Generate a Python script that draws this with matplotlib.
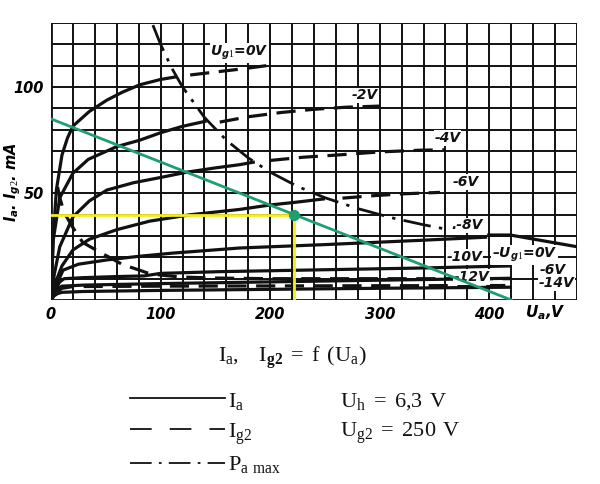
import matplotlib
matplotlib.use("Agg")
import matplotlib.pyplot as plt

plt.rcParams['mathtext.fontset'] = 'custom'
plt.rcParams['mathtext.rm'] = 'Liberation Serif'
plt.rcParams['mathtext.it'] = 'DejaVu Sans:italic:bold'
plt.rcParams['mathtext.bf'] = 'Liberation Serif:bold'

# ---------------- data ----------------
# anode current, solid part (up to Pa max), Ua in V, Ia in mA
ua_g0 = [0, 2, 5, 10, 15, 20, 35, 51, 65, 81, 100, 115]
ia_g0 = [0, 30, 52, 68, 76, 81.6, 88.5, 93.8, 97.5, 101, 103.5, 104.8]
ua_g2 = [0, 2, 8, 20, 34, 60, 81, 100, 120, 142]
ia_g2 = [0, 28, 48, 59.5, 66, 72, 75, 78.5, 81.5, 84]
ua_g4 = [0, 3, 8, 20, 35, 51, 75, 100, 124, 150, 172, 186]
ia_g4 = [0, 12, 25, 39, 46.5, 51.6, 55, 57.5, 60, 62, 63.5, 64.8]
ua_g6 = [0, 4, 10, 20, 35, 60, 90, 127, 172, 200, 222, 250]
ia_g6 = [0, 8, 16, 23.5, 28.5, 33, 37, 40, 42.5, 44.6, 45.8, 47.5]
ua_g8 = [0, 4, 11, 25, 51, 80, 111, 172, 250, 337, 398]
ia_g8 = [0, 6, 14, 16.8, 18.8, 20.5, 22, 24.4, 26, 28, 29.5]
ua_g8b = [398, 419, 480]
ia_g8b = [30.5, 30.5, 25]
ua_g10 = [0, 4, 8, 12, 30, 60, 85, 100, 154, 250, 337, 420]
ia_g10 = [0, 5, 8.5, 10, 10.5, 11, 11.3, 12.5, 13.3, 14.2, 15, 16]
ua_g12 = [0, 3, 6, 10, 30, 100, 200, 300, 420]
ia_g12 = [0, 3.5, 5.5, 6.5, 7, 7.7, 8.5, 9.3, 10.2]
ua_g14 = [0, 3, 6, 10, 30, 100, 200, 300, 420]
ia_g14 = [0, 2, 3, 3.6, 4, 4.5, 5, 5.5, 6]

# anode current beyond Pa max (dashed)
ua_g0d = [127, 150, 175, 197]
ia_g0d = [105.6, 107, 108.5, 110]
ua_g2d = [154, 180, 210, 240, 270, 300]
ia_g2d = [83.5, 86, 88, 89.5, 90.5, 91]
ua_g4d = [200, 230, 260, 300, 337, 360]
ia_g4d = [65.5, 67, 68, 69.5, 70.3, 70.5]
ua_g6d = [266, 290, 320, 355]
ia_g6d = [47.8, 48.8, 49.8, 50.5]

# screen grid current (dashed)
ua_s0 = [6, 8, 12, 20, 29, 46, 57, 66, 75, 88, 100, 118, 150, 200, 300, 420]
is_s0 = [53, 48, 41, 34, 27, 22, 19, 16.4, 15, 12.7, 11.7, 10.8, 10.3, 10, 10, 10]
ua_s6 = [5, 10, 20, 100, 200, 300, 420]
is_s6 = [3.5, 5.5, 6.3, 6.5, 6.6, 6.7, 6.8]

# Pa max = 12 W hyperbola
ua_pmax = [93, 100, 110, 120, 140, 160, 180, 200, 225, 250, 280, 310, 340, 358]
ia_pmax = [129, 120, 109, 100, 85.7, 75, 66.7, 60, 53.3, 48, 42.9, 38.7, 35.3, 33.5]

# load line and operating point
ua_load = [0, 420]
ia_load = [85, 0]
ua_op = 222
ia_op = 40

x_ticks = [0, 100, 200, 300, 400]
y_ticks = [50, 100]

# ---------------- drawing ----------------
fig = plt.figure(figsize=(6.0, 4.84), dpi=100)
ax = fig.add_axes([51/600, 1-300/484, (577-51)/600, (300-23)/484])
ax.set_xlim(0, 480)
ax.set_ylim(0, 130)

K = '#111111'
for x in range(0, 481, 20):
    ax.axvline(x, color=K, lw=1.4 if x else 2.0, zorder=1)
for y in range(0, 131, 10):
    ax.axhline(y, color=K, lw=1.4 if y else 2.0, zorder=1)
for s in ax.spines.values():
    s.set_visible(False)
ax.tick_params(length=0)
ax.set_xticks(x_ticks)
ax.set_xticklabels([str(v) for v in x_ticks], fontstyle='italic',
                   fontweight='bold', fontsize=10.5)
ax.set_yticks(y_ticks)
ax.set_yticklabels([str(v) for v in y_ticks], fontstyle='italic',
                   fontweight='bold', fontsize=10.5)
ax.tick_params(axis='x', pad=5)
ax.tick_params(axis='y', pad=5)

lw = 2.3
solid = [(ua_g0, ia_g0), (ua_g2, ia_g2), (ua_g4, ia_g4), (ua_g6, ia_g6),
         (ua_g8, ia_g8), (ua_g8b, ia_g8b), (ua_g10, ia_g10), (ua_g12, ia_g12),
         (ua_g14, ia_g14)]
for u, i in solid:
    ax.plot(u, i, color=K, lw=lw, solid_capstyle='butt', zorder=3)
dashed = [(ua_g0d, ia_g0d), (ua_g2d, ia_g2d), (ua_g4d, ia_g4d), (ua_g6d, ia_g6d),
          (ua_s0, is_s0), (ua_s6, is_s6)]
for u, i in dashed:
    ax.plot(u, i, color=K, lw=lw, dashes=(6, 3), zorder=3)
ax.plot(ua_pmax, ia_pmax, color=K, lw=2.0, dashes=(10, 3, 1.2, 3), zorder=3)

# curve labels
lab = dict(fontstyle='italic', fontweight='bold', fontsize=10, color=K,
           ha='center', va='center', zorder=4,
           bbox=dict(facecolor='white', edgecolor='none', pad=0.5))
ax.text(172, 116, r"$U_{g1}$=0V", **lab)
ax.text(286, 96, "-2V", **lab)
ax.text(362, 76, "-4V", **lab)
ax.text(378, 55.4, "-6V", **lab)
ax.text(380, 35, ".-8V", **lab)
ax.text(377, 20.2, "-10V", **lab)
ax.text(384, 10.8, "-12V", **lab)
ax.text(432, 21, r"–$U_{g1}$=0V", **lab)
ax.text(458, 14, "-6V", **lab)
ax.text(461, 8, "-14V", **lab)

# load line overlay
ax.plot([0, ua_op], [ia_op, ia_op], color='#f2ee1e', lw=2.0, zorder=5)
ax.plot([ua_op, ua_op], [0, ia_op], color='#f2ee1e', lw=2.0, zorder=5)
ax.plot(ua_load, ia_load, color='#1f9e72', lw=2.0, zorder=6)
ax.plot([ua_op], [ia_op], 'o', color='#1f9e72', ms=7, zorder=7)

# axis titles
fig.text(545/600, 1-313/484, r"$U_a$,V", fontstyle='italic', fontweight='bold',
         fontsize=11, ha='center', va='center')
fig.text(13/600, 1-182/484, r"$I_a$. $I_{g2}$. mA", fontstyle='italic',
         fontweight='bold', fontsize=10.5, rotation=90, ha='center', va='center')

# caption & legend
ser = dict(fontsize=16, color=K, va='baseline', family='Liberation Serif')
fig.text(292/600, 1-362/484, r"$\mathrm{I_a,\ \ I_{\mathbf{g2}}\,=\,f\ (U_a)}$",
         ha='center', **ser)
fig.lines.append(plt.Line2D([130/600, 225/600], [1-398/484]*2, color=K, lw=1.3,
                            transform=fig.transFigure))
fig.lines.append(plt.Line2D([130/600, 225/600], [1-429/484]*2, color=K, lw=1.3,
                            dashes=(12, 10), transform=fig.transFigure))
fig.lines.append(plt.Line2D([130/600, 225/600], [1-463/484]*2, color=K, lw=1.3,
                            dashes=(12, 4, 1.5, 4), transform=fig.transFigure))
fig.text(228/600, 1-407/484, r"$\mathrm{I_a}$", ha='left', **ser)
fig.text(228/600, 1-438/484, r"$\mathrm{I_{g2}}$", ha='left', **ser)
fig.text(228/600, 1-470/484, r"$\mathrm{P_{a\ max}}$", ha='left', **ser)
fig.text(340/600, 1-407/484, r"$\mathrm{U_h\,=\,6{,}3\ V}$", ha='left', **ser)
fig.text(340/600, 1-437/484, r"$\mathrm{U_{g2}\,=\,250\ V}$", ha='left', **ser)

fig.savefig("out.png", dpi=100, facecolor='white')
